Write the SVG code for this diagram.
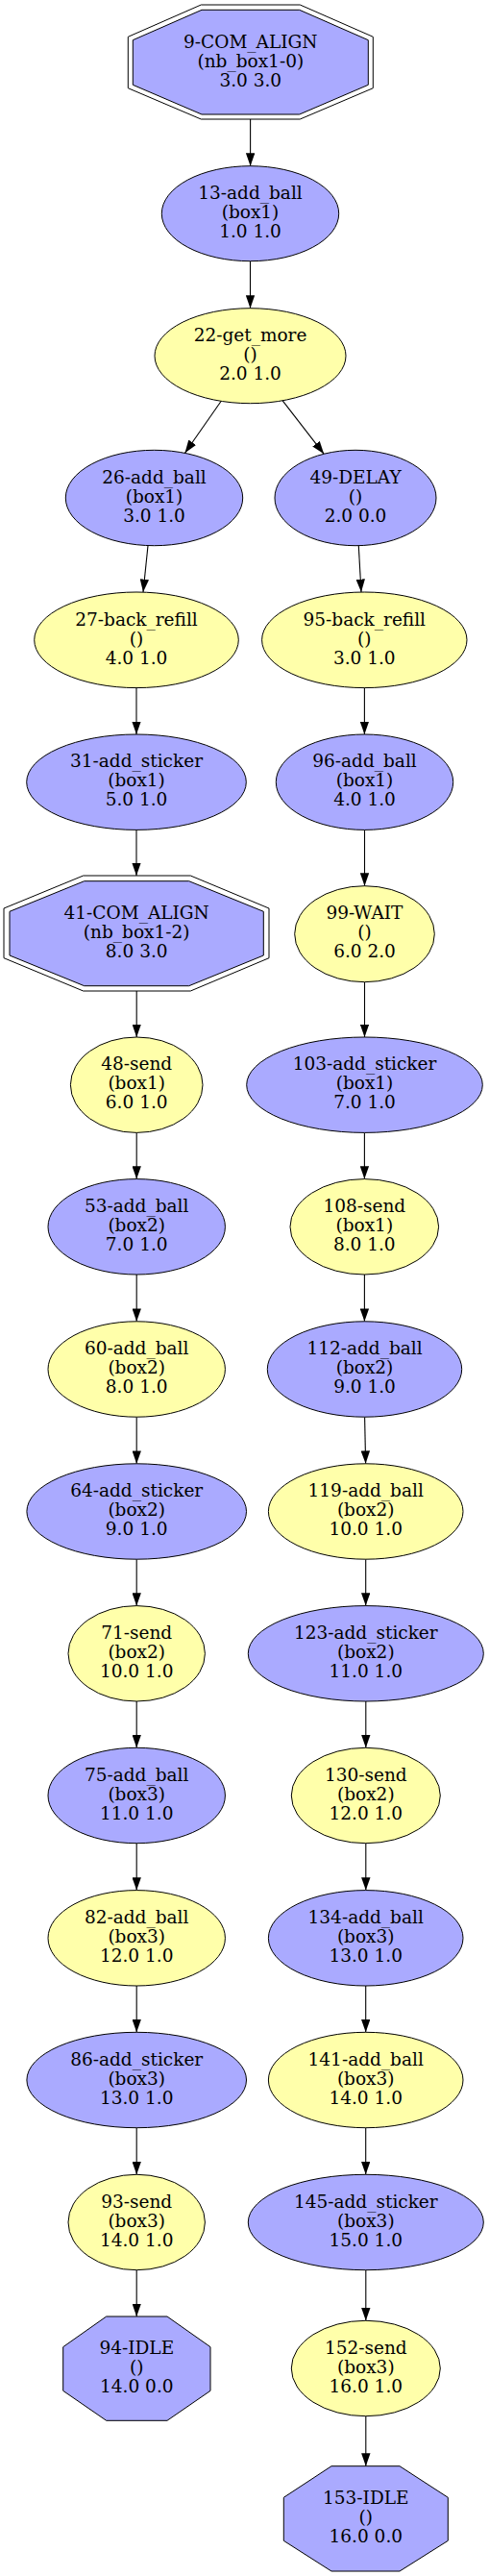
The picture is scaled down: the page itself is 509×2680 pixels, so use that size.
<svg xmlns="http://www.w3.org/2000/svg" width="509" height="2680" viewBox="0 0 509 2680">
<style>
.b{fill:#aaaaff;stroke:#000;stroke-width:1}
.y{fill:#ffffaa;stroke:#000;stroke-width:1}
.o{fill:none;stroke:#000;stroke-width:1}
text{font-family:"DejaVu Serif",serif;font-size:18.5px;text-anchor:middle;fill:#000}
#edges line{stroke:#000;stroke-width:1.1;marker-end:url(#arr)}
</style>
<defs>
<marker id="arr" markerUnits="userSpaceOnUse" markerWidth="13.4" markerHeight="9.4" viewBox="0 0 13.4 9.4" refX="13.4" refY="4.7" orient="auto">
<path d="M0,0 L13.4,4.7 L0,9.4 z" fill="#000"/>
</marker>
</defs>
<rect width="509" height="2680" fill="#fff"/>
<g id="edges">
<line x1="260.6" y1="124" x2="260.6" y2="172.7"/>
<line x1="260.5" y1="271.7" x2="260.5" y2="320.7"/>
<line x1="230.4" y1="417" x2="192.5" y2="471.2"/>
<line x1="293.8" y1="416.3" x2="337.2" y2="472.3"/>
<line x1="154" y1="567.7" x2="149" y2="616"/>
<line x1="373.3" y1="567.7" x2="376" y2="616"/>
<line x1="142" y1="715.6" x2="142" y2="764"/>
<line x1="379.4" y1="715.6" x2="379.4" y2="764"/>
<line x1="142" y1="863.4" x2="142" y2="911"/>
<line x1="379.5" y1="863.4" x2="379.5" y2="921.7"/>
<line x1="142.2" y1="1031" x2="142.2" y2="1079"/>
<line x1="379.5" y1="1021.7" x2="379.5" y2="1079"/>
<line x1="142.2" y1="1178.4" x2="142.2" y2="1226.6"/>
<line x1="379.4" y1="1178.4" x2="379.4" y2="1226.6"/>
<line x1="142.2" y1="1326" x2="142.2" y2="1374.8"/>
<line x1="379.4" y1="1326" x2="379.4" y2="1374.8"/>
<line x1="142.2" y1="1474.2" x2="142.2" y2="1522.8"/>
<line x1="379.6" y1="1474.2" x2="380.6" y2="1522.8"/>
<line x1="142.2" y1="1622.2" x2="142.2" y2="1670.6"/>
<line x1="380.7" y1="1622.2" x2="380.7" y2="1670.6"/>
<line x1="142.2" y1="1770" x2="142.2" y2="1818.3"/>
<line x1="380.8" y1="1770" x2="380.8" y2="1818.3"/>
<line x1="142.2" y1="1917.7" x2="142.2" y2="1966.6"/>
<line x1="380.8" y1="1917.7" x2="380.8" y2="1966.6"/>
<line x1="142.2" y1="2066" x2="142.2" y2="2114.3"/>
<line x1="380.7" y1="2066" x2="380.7" y2="2114.3"/>
<line x1="142.2" y1="2213.7" x2="142.2" y2="2262.3"/>
<line x1="380.7" y1="2213.7" x2="380.7" y2="2262.3"/>
<line x1="142.2" y1="2361.7" x2="142.2" y2="2410"/>
<line x1="380.8" y1="2361.7" x2="380.8" y2="2414.3"/>
<line x1="380.8" y1="2513.7" x2="380.8" y2="2565.7"/>
</g>
<g id="n9">
<polygon class="o" points="209.3,5 312.3,5 388.3,38.3 388.3,91.7 312.3,124 209.3,124 133.3,91.7 133.3,38.3"/>
<polygon class="b" points="210,10.3 311.7,10.3 383.3,41.7 383.3,88.3 311.7,119 210,119 138.3,88.3 138.3,41.7"/>
<text x="260.8" y="50">9-COM_ALIGN</text><text x="260.8" y="70">(nb_box1-0)</text><text x="260.8" y="90">3.0 3.0</text>
</g>
<g id="n13"><ellipse class="b" cx="260.5" cy="222.2" rx="92.2" ry="49.5"/>
<text x="260.5" y="206.9">13-add_ball</text><text x="260.5" y="226.9">(box1)</text><text x="260.5" y="246.9">1.0 1.0</text></g>
<g id="n22"><ellipse class="y" cx="260.5" cy="370.2" rx="99.5" ry="49.5"/>
<text x="260.5" y="354.9">22-get_more</text><text x="260.5" y="374.9">()</text><text x="260.5" y="394.9">2.0 1.0</text></g>
<g id="n26"><ellipse class="b" cx="160.5" cy="518" rx="92.2" ry="49.7"/>
<text x="160.5" y="502.7">26-add_ball</text><text x="160.5" y="522.7">(box1)</text><text x="160.5" y="542.7">3.0 1.0</text></g>
<g id="n49"><ellipse class="b" cx="370" cy="518" rx="84" ry="49.7"/>
<text x="370" y="502.7">49-DELAY</text><text x="370" y="522.7">()</text><text x="370" y="542.7">2.0 0.0</text></g>
<g id="n27"><ellipse class="y" cx="142" cy="665.8" rx="106.3" ry="49.8"/>
<text x="142" y="650.5">27-back_refill</text><text x="142" y="670.5">()</text><text x="142" y="690.5">4.0 1.0</text></g>
<g id="n95"><ellipse class="y" cx="379.3" cy="665.8" rx="106.7" ry="49.8"/>
<text x="379.3" y="650.5">95-back_refill</text><text x="379.3" y="670.5">()</text><text x="379.3" y="690.5">3.0 1.0</text></g>
<g id="n31"><ellipse class="b" cx="142" cy="813.7" rx="114.3" ry="49.7"/>
<text x="142" y="798.4">31-add_sticker</text><text x="142" y="818.4">(box1)</text><text x="142" y="838.4">5.0 1.0</text></g>
<g id="n96"><ellipse class="b" cx="379.5" cy="813.7" rx="92.2" ry="49.7"/>
<text x="379.5" y="798.4">96-add_ball</text><text x="379.5" y="818.4">(box1)</text><text x="379.5" y="838.4">4.0 1.0</text></g>
<g id="n41">
<polygon class="o" points="86.7,911 198.3,911 280,945 280,996.7 198.3,1031 86.7,1031 4,996.7 4,945"/>
<polygon class="b" points="87.7,916.7 196.7,916.7 274.3,948.3 274.3,994 196.7,1025.7 87.7,1025.7 10,994 10,948.3"/>
<text x="142.2" y="956">41-COM_ALIGN</text><text x="142.2" y="976">(nb_box1-2)</text><text x="142.2" y="996">8.0 3.0</text>
</g>
<g id="n99"><ellipse class="y" cx="379.5" cy="971.7" rx="72.8" ry="50"/>
<text x="379.5" y="956.4">99-WAIT</text><text x="379.5" y="976.4">()</text><text x="379.5" y="996.4">6.0 2.0</text></g>
<g id="n48"><ellipse class="y" cx="142.2" cy="1128.7" rx="68.8" ry="49.7"/>
<text x="142.2" y="1113.4">48-send</text><text x="142.2" y="1133.4">(box1)</text><text x="142.2" y="1153.4">6.0 1.0</text></g>
<g id="n103"><ellipse class="b" cx="379.5" cy="1128.7" rx="122.8" ry="49.7"/>
<text x="379.5" y="1113.4">103-add_sticker</text><text x="379.5" y="1133.4">(box1)</text><text x="379.5" y="1153.4">7.0 1.0</text></g>
<g id="n53"><ellipse class="b" cx="142.2" cy="1276.3" rx="92.2" ry="49.7"/>
<text x="142.2" y="1261">53-add_ball</text><text x="142.2" y="1281">(box2)</text><text x="142.2" y="1301">7.0 1.0</text></g>
<g id="n108"><ellipse class="y" cx="379.3" cy="1276.3" rx="77.3" ry="49.7"/>
<text x="379.3" y="1261">108-send</text><text x="379.3" y="1281">(box1)</text><text x="379.3" y="1301">8.0 1.0</text></g>
<g id="n60"><ellipse class="y" cx="142.2" cy="1424.5" rx="92.2" ry="49.7"/>
<text x="142.2" y="1409.2">60-add_ball</text><text x="142.2" y="1429.2">(box2)</text><text x="142.2" y="1449.2">8.0 1.0</text></g>
<g id="n112"><ellipse class="b" cx="379.5" cy="1424.5" rx="101.2" ry="49.7"/>
<text x="379.5" y="1409.2">112-add_ball</text><text x="379.5" y="1429.2">(box2)</text><text x="379.5" y="1449.2">9.0 1.0</text></g>
<g id="n64"><ellipse class="b" cx="142.2" cy="1572.5" rx="114.3" ry="49.7"/>
<text x="142.2" y="1557.2">64-add_sticker</text><text x="142.2" y="1577.2">(box2)</text><text x="142.2" y="1597.2">9.0 1.0</text></g>
<g id="n119"><ellipse class="y" cx="380.7" cy="1572.5" rx="101.3" ry="49.7"/>
<text x="380.7" y="1557.2">119-add_ball</text><text x="380.7" y="1577.2">(box2)</text><text x="380.7" y="1597.2">10.0 1.0</text></g>
<g id="n71"><ellipse class="y" cx="142.2" cy="1720.3" rx="71.2" ry="49.7"/>
<text x="142.2" y="1705">71-send</text><text x="142.2" y="1725">(box2)</text><text x="142.2" y="1745">10.0 1.0</text></g>
<g id="n123"><ellipse class="b" cx="380.8" cy="1720.3" rx="122.5" ry="49.7"/>
<text x="380.8" y="1705">123-add_sticker</text><text x="380.8" y="1725">(box2)</text><text x="380.8" y="1745">11.0 1.0</text></g>
<g id="n75"><ellipse class="b" cx="142.2" cy="1868" rx="92.2" ry="49.7"/>
<text x="142.2" y="1852.7">75-add_ball</text><text x="142.2" y="1872.7">(box3)</text><text x="142.2" y="1892.7">11.0 1.0</text></g>
<g id="n130"><ellipse class="y" cx="380.8" cy="1868" rx="77.5" ry="49.7"/>
<text x="380.8" y="1852.7">130-send</text><text x="380.8" y="1872.7">(box2)</text><text x="380.8" y="1892.7">12.0 1.0</text></g>
<g id="n82"><ellipse class="y" cx="142.2" cy="2016.3" rx="92.2" ry="49.7"/>
<text x="142.2" y="2001">82-add_ball</text><text x="142.2" y="2021">(box3)</text><text x="142.2" y="2041">12.0 1.0</text></g>
<g id="n134"><ellipse class="b" cx="380.7" cy="2016.3" rx="101.3" ry="49.7"/>
<text x="380.7" y="2001">134-add_ball</text><text x="380.7" y="2021">(box3)</text><text x="380.7" y="2041">13.0 1.0</text></g>
<g id="n86"><ellipse class="b" cx="142.2" cy="2164" rx="114.3" ry="49.7"/>
<text x="142.2" y="2148.7">86-add_sticker</text><text x="142.2" y="2168.7">(box3)</text><text x="142.2" y="2188.7">13.0 1.0</text></g>
<g id="n141"><ellipse class="y" cx="380.7" cy="2164" rx="101.3" ry="49.7"/>
<text x="380.7" y="2148.7">141-add_ball</text><text x="380.7" y="2168.7">(box3)</text><text x="380.7" y="2188.7">14.0 1.0</text></g>
<g id="n93"><ellipse class="y" cx="142.2" cy="2312" rx="71.2" ry="49.7"/>
<text x="142.2" y="2296.7">93-send</text><text x="142.2" y="2316.7">(box3)</text><text x="142.2" y="2336.7">14.0 1.0</text></g>
<g id="n145"><ellipse class="b" cx="380.8" cy="2312" rx="122.5" ry="49.7"/>
<text x="380.8" y="2296.7">145-add_sticker</text><text x="380.8" y="2316.7">(box3)</text><text x="380.8" y="2336.7">15.0 1.0</text></g>
<g id="n94">
<polygon class="b" points="110.7,2410 174,2410 219,2441.7 219,2487.3 174,2518.3 110.7,2518.3 65.7,2487.3 65.7,2441.7"/>
<text x="142.3" y="2449">94-IDLE</text><text x="142.3" y="2469">()</text><text x="142.3" y="2489">14.0 0.0</text>
</g>
<g id="n152"><ellipse class="y" cx="380.8" cy="2464" rx="77.5" ry="49.7"/>
<text x="380.8" y="2448.7">152-send</text><text x="380.8" y="2468.7">(box3)</text><text x="380.8" y="2488.7">16.0 1.0</text></g>
<g id="n153">
<polygon class="b" points="345,2565.7 416,2565.7 466.3,2598.3 466.3,2643.3 416,2675 345,2675 295.3,2643.3 295.3,2598.3"/>
<text x="380.8" y="2605">153-IDLE</text><text x="380.8" y="2625">()</text><text x="380.8" y="2645">16.0 0.0</text>
</g>
</svg>
